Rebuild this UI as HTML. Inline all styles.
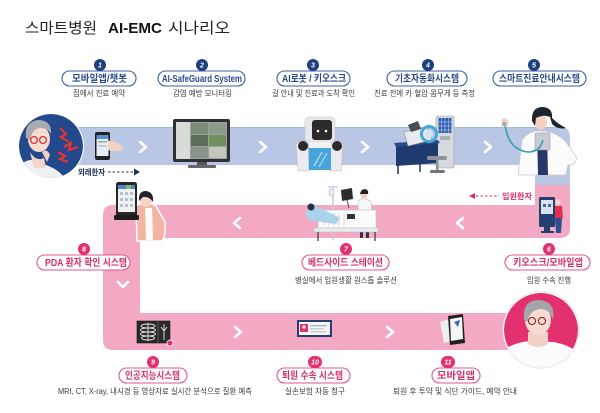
<!DOCTYPE html>
<html><head><meta charset="utf-8">
<style>
html,body{margin:0;padding:0;background:#fff;}
body{width:600px;height:413px;overflow:hidden;}
svg{display:block;}
text{font-family:"Liberation Sans","Noto Sans CJK KR",sans-serif;}
.pb{fill:#2c4a8c;font-weight:bold;font-size:10px;}
.pp{fill:#d4306e;font-weight:bold;font-size:10px;}
.sub{fill:#3a3a3a;font-size:8px;}
.bn{fill:#fff;font-weight:bold;font-style:italic;font-size:7px;}
</style></head>
<body>
<svg width="600" height="413" viewBox="0 0 600 413" xmlns="http://www.w3.org/2000/svg">
<defs>
<clipPath id="c1"><circle cx="51" cy="146" r="32"/></clipPath>
<clipPath id="c2"><circle cx="541" cy="330" r="37"/></clipPath>
</defs>

<!-- Title -->
<text x="25" y="33" font-size="15" fill="#222" textLength="72" lengthAdjust="spacingAndGlyphs">스마트병원</text>
<text x="108" y="33" font-size="15" font-weight="bold" fill="#111" textLength="54" lengthAdjust="spacingAndGlyphs">AI-EMC</text>
<text x="168" y="33" font-size="15" fill="#222" textLength="62" lengthAdjust="spacingAndGlyphs">시나리오</text>

<!-- Tracks -->
<path d="M70 127 H560 Q570 127 570 137 V186 H535 V165 H70 Z" fill="#b9c6e4"/>
<line x1="70" y1="127.5" x2="560" y2="127.5" stroke="#a6b5da" stroke-width="1"/>
<path d="M113 205 H535 V185 H570 V228 Q570 238 560 238 H143 Q140 238 140 241 V313 H545 V350 H113 Q103 350 103 340 V215 Q103 205 113 205 Z" fill="#f3a9c4"/>

<!-- chevrons -->
<g fill="none" stroke="#fff" stroke-width="2.6" stroke-linecap="round" stroke-linejoin="round">
<polyline points="140,142 146,147 140,152"/>
<polyline points="260,142 266,147 260,152"/>
<polyline points="362,142 368,147 362,152"/>
<polyline points="485,142 491,147 485,152"/>
<polyline points="240,218 234,223 240,228"/>
<polyline points="463,218 457,223 463,228"/>
<polyline points="118,282 123,287 128,282"/>
<polyline points="235,327 241,332 235,337"/>
<polyline points="387,327 393,332 387,337"/>
</g>

<!-- Top-left circle patient -->
<circle cx="51" cy="146" r="33" fill="#fff"/>
<g clip-path="url(#c1)">
<circle cx="51" cy="146" r="32" fill="#23488b"/>
<path d="M14 170 Q25 158 36 160 L46 165 Q60 170 66 180 L70 190 L10 190 Z" fill="#eef0f5"/>
<path d="M30 152 Q36 162 44 158 L46 168 L34 168 Z" fill="#f4d5cb"/>
<ellipse cx="39" cy="139" rx="11" ry="13" fill="#f6dbd2"/>
<path d="M26 138 Q24 122 38 120 Q52 120 51 134 Q48 128 40 128 Q32 129 30 140 Z" fill="#a9abb1"/>
<circle cx="34" cy="140" r="3.4" fill="none" stroke="#d93030" stroke-width="1.3"/>
<circle cx="43" cy="140" r="3.4" fill="none" stroke="#d93030" stroke-width="1.3"/>
<path d="M42 152 Q47 148 50 155 L47 162 Z" fill="#f1cfc5"/>
<g fill="none" stroke="#e8332f" stroke-width="2.2" stroke-linejoin="miter">
<polyline points="60,128 66,134 61,137 69,142"/>
<polyline points="64,147 71,143 69,150 78,147"/>
<polyline points="58,152 65,156 60,159 68,162"/>
</g>
</g>

<!-- phone in hand -->
<rect x="95" y="132" width="15" height="28" rx="2" fill="#222"/>
<rect x="96.5" y="135" width="12" height="21" fill="#e9eef6"/>
<rect x="96.5" y="135" width="12" height="4" fill="#5a8fd0"/>
<rect x="98" y="141" width="9" height="1.5" fill="#8cb58a"/>
<rect x="98" y="145" width="9" height="1.5" fill="#b7c3d6"/>
<path d="M108 141 Q116 140 123 147 L121 151 Q114 152 108 150 Z" fill="#f3d2c4"/>

<!-- monitor -->
<rect x="173" y="119" width="57" height="43" rx="2" fill="#2f3135"/>
<rect x="176" y="122" width="51" height="37" fill="#9aa39a"/>
<rect x="176" y="122" width="14" height="37" fill="#d8dcd8"/>
<rect x="191" y="123" width="17" height="11" fill="#7d8a7a"/>
<rect x="209" y="123" width="17" height="11" fill="#8d9b8a"/>
<rect x="191" y="135" width="17" height="11" fill="#5b6e58"/>
<rect x="209" y="135" width="17" height="11" fill="#6f8f5e"/>
<rect x="191" y="147" width="17" height="11" fill="#8a948a"/>
<rect x="209" y="147" width="17" height="11" fill="#bfc8bd"/>
<rect x="197" y="162" width="10" height="4" fill="#555"/>
<rect x="188" y="165" width="28" height="3" rx="1" fill="#666"/>

<!-- robot -->
<path d="M296 144 Q300 140 308 141 L309 171 L298 171 Z" fill="#e9ebee" stroke="#b8bcc2" stroke-width="0.6"/>
<path d="M343 144 Q339 140 331 141 L330 171 L341 171 Z" fill="#e9ebee" stroke="#b8bcc2" stroke-width="0.6"/>
<circle cx="303" cy="146" r="5" fill="#2b2b2b"/>
<circle cx="337" cy="146" r="5" fill="#2b2b2b"/>
<rect x="305" y="117" width="30" height="25" rx="4" fill="#e6e8ea" stroke="#bfc3c8" stroke-width="0.6"/>
<rect x="312" y="120" width="20" height="20" rx="3" fill="#2a2a2c"/>
<circle cx="318" cy="131" r="1.3" fill="#fff"/>
<circle cx="326" cy="131" r="1.3" fill="#fff"/>
<rect x="309" y="142" width="22" height="6" fill="#f2f3f4"/>
<rect x="309" y="148" width="22" height="22" fill="#4aa4dc"/>
<line x1="314" y1="166" x2="322" y2="152" stroke="#bfe3f7" stroke-width="1.2"/>
<line x1="319" y1="167" x2="327" y2="153" stroke="#bfe3f7" stroke-width="1"/>

<!-- BP machine + kiosk -->
<rect x="436" y="116" width="18" height="52" rx="1.5" fill="#d6d9de" stroke="#9aa0a8" stroke-width="0.6"/>
<rect x="438.5" y="118" width="13" height="15" fill="#2f5fb0"/>
<g stroke="#d4e2f5" stroke-width="0.5">
<line x1="441.5" y1="118" x2="441.5" y2="133"/><line x1="445" y1="118" x2="445" y2="133"/><line x1="448.5" y1="118" x2="448.5" y2="133"/>
<line x1="438.5" y1="122" x2="451.5" y2="122"/><line x1="438.5" y1="126" x2="451.5" y2="126"/><line x1="438.5" y1="130" x2="451.5" y2="130"/>
</g>
<rect x="440" y="136" width="10" height="4" fill="#aab0b8"/>
<path d="M396 145 L438 142 L438 163 L396 166 Z" fill="#1f3a6e"/>
<path d="M394 143 L438 140 L440 143 L396 147 Z" fill="#2a4c88"/>
<line x1="398" y1="165" x2="398" y2="174" stroke="#1f3a6e" stroke-width="1.5"/>
<line x1="420" y1="163" x2="420" y2="172" stroke="#1f3a6e" stroke-width="1.5"/>
<path d="M404 132 L427 127 L432 140 L408 146 Z" fill="#e8eaee" stroke="#8a9098" stroke-width="0.6"/>
<path d="M408 125 L418 121 L421 129 L411 132 Z" fill="#4a4d52"/>
<circle cx="429" cy="134" r="7.5" fill="none" stroke="#46a7d8" stroke-width="3"/>
<circle cx="429" cy="134" r="4" fill="#d7e3ec"/>
<rect x="427" y="156" width="20" height="4" rx="1.5" fill="#8d9198"/>
<rect x="436" y="160" width="2.5" height="10" fill="#8d9198"/>
<rect x="430" y="170" width="15" height="3" rx="1.5" fill="#6f747b"/>

<!-- doctor -->
<path d="M518 175 L522 140 Q530 130 540 131 Q556 131 566 142 L577 158 Q574 166 568 165 L566 175 Z" fill="#fbfbfc" stroke="#c3c7cf" stroke-width="0.7"/>
<path d="M537 133 L547 133 L548 175 L538 175 Z" fill="#28386a"/>
<rect x="535" y="133" width="15" height="17" rx="1" fill="#c8ccd2" stroke="#8e949c" stroke-width="0.5"/>
<ellipse cx="541" cy="122" rx="6" ry="7.5" fill="#f4d2c5"/>
<path d="M532 121 Q531 107 543 107 Q553 108 552 118 Q558 124 566 128 Q558 130 552 124 L550 117 Q544 114 536 118 L535 126 Z" fill="#1e2330"/>
<path d="M505 124 Q508 150 528 152 Q540 152 543 140" fill="none" stroke="#3aa0b4" stroke-width="1.6"/>
<path d="M501 120 Q506 116 509 122 L507 128 Z" fill="#f4d2c5"/>
<circle cx="504" cy="124" r="2.2" fill="#9fa6ae"/>

<!-- 외래환자 arrow -->
<text x="78" y="175" font-size="8" font-weight="bold" fill="#1e2f5a" textLength="27" lengthAdjust="spacingAndGlyphs">외래환자</text>
<line x1="108" y1="172" x2="133" y2="172" stroke="#1e2f5a" stroke-width="1" stroke-dasharray="2.5,2"/>
<path d="M134 168.5 L140 172 L134 175.5 Z" fill="#1e2f5a"/>

<!-- 입원환자 arrow -->
<path d="M475 193 L469 196 L475 199 Z" fill="#d4306e"/>
<line x1="476" y1="196" x2="499" y2="196" stroke="#d4306e" stroke-width="1" stroke-dasharray="2.5,2"/>
<text x="502" y="199" font-size="8" font-weight="bold" fill="#d4306e" textLength="30" lengthAdjust="spacingAndGlyphs">입원환자</text>

<!-- PDA woman -->
<path d="M136 206 Q146 200 156 206 L165 222 Q166 236 162 241 L137 241 Z" fill="#f3b5a3" stroke="#fff" stroke-width="1.5"/>
<path d="M145 208 L152 208 L153 240 L146 240 Z" fill="#fbfbfb"/>
<ellipse cx="146" cy="200" rx="6" ry="7" fill="#f4d2c5"/>
<path d="M139 201 Q138 191 146 191 Q154 192 153 202 Q149 196 143 197 Z" fill="#1e2330"/>
<rect x="116" y="182" width="21" height="37" rx="2.5" fill="#262628"/>
<rect x="118" y="185" width="17" height="27" fill="#eef1f4"/>
<rect x="118" y="185" width="17" height="4" fill="#4f86c9"/>
<rect x="126" y="185" width="5" height="4" fill="#7cbf6e"/>
<g fill="#b8c0cc"><rect x="120" y="192" width="3" height="3"/><rect x="125" y="192" width="3" height="3"/><rect x="130" y="192" width="3" height="3"/>
<rect x="120" y="198" width="3" height="3"/><rect x="125" y="198" width="3" height="3"/><rect x="130" y="198" width="3" height="3"/>
<rect x="120" y="204" width="3" height="3"/><rect x="125" y="204" width="3" height="3"/><rect x="130" y="204" width="3" height="3"/></g>
<rect x="114" y="215" width="25" height="5" rx="1.5" fill="#1c1c1e"/>

<!-- bed station -->
<line x1="333" y1="186" x2="333" y2="240" stroke="#c9ccd2" stroke-width="1.6"/>
<line x1="328" y1="187" x2="338" y2="187" stroke="#c9ccd2" stroke-width="1.2"/>
<rect x="329" y="189" width="5" height="7" rx="1" fill="#dfe9f2" stroke="#aab" stroke-width="0.4"/>
<path d="M341 190 L352 188 L353 199 L342 201 Z" fill="#2a2c30"/>
<line x1="347" y1="200" x2="349" y2="208" stroke="#555" stroke-width="1"/>
<path d="M358 201 Q364 196 371 202 L373 226 L359 226 Z" fill="#f7f8fa" stroke="#b9bec6" stroke-width="0.6"/>
<ellipse cx="364" cy="195" rx="3.5" ry="4" fill="#f4d2c5"/>
<path d="M360 194 Q361 189 365 189 Q369 190 368 194 Z" fill="#1e2330"/>
<rect x="360" y="226" width="3" height="12" fill="#333"/><rect x="366" y="226" width="3" height="12" fill="#333"/>
<rect x="318" y="210" width="58" height="18" fill="#fbfbfb" stroke="#b9bec6" stroke-width="0.6"/>
<g stroke="#c8ccd3" stroke-width="0.8"><line x1="324" y1="213" x2="324" y2="226"/><line x1="329" y1="213" x2="329" y2="226"/><line x1="334" y1="213" x2="334" y2="226"/><line x1="339" y1="213" x2="339" y2="226"/><line x1="344" y1="213" x2="344" y2="226"/></g>
<rect x="347" y="214" width="8" height="5" fill="#30343a"/>
<path d="M305 212 L312 204 L340 218 L336 224 L308 220 Z" fill="#a9d2ec"/>
<circle cx="311" cy="207" r="3.5" fill="#263046"/>
<rect x="314" y="228" width="64" height="4" fill="#e8eaee" stroke="#b9bec6" stroke-width="0.5"/>
<line x1="318" y1="232" x2="318" y2="241" stroke="#333" stroke-width="1.2"/>
<line x1="375" y1="232" x2="375" y2="241" stroke="#333" stroke-width="1.2"/>

<!-- kiosk right -->
<rect x="539" y="197" width="16" height="30" rx="1.5" fill="#253f70"/>
<rect x="541" y="200" width="12" height="14" fill="#d9e3f0"/>
<rect x="543" y="204" width="3" height="3" fill="#3c66a8"/><rect x="548" y="204" width="3" height="3" fill="#3c66a8"/>
<rect x="544" y="227" width="6" height="5" fill="#253f70"/>
<rect x="541" y="231" width="13" height="2" fill="#253f70"/>
<ellipse cx="558" cy="202" rx="2.6" ry="3" fill="#f4d2c5"/>
<path d="M555 206 L562 206 L563 218 L555 218 Z" fill="#e2304f"/>
<path d="M555 218 L562 218 L561 233 L556 233 Z" fill="#2d4f92"/>

<!-- X-ray -->
<rect x="137" y="321" width="33" height="22" fill="#2a2a2c" stroke="#1a1a1a" stroke-width="0.6"/>
<line x1="158" y1="321" x2="158" y2="343" stroke="#777" stroke-width="0.6"/>
<g fill="none" stroke="#e8e8e8" stroke-width="0.9">
<ellipse cx="148" cy="326" rx="7" ry="2"/><ellipse cx="148" cy="330" rx="7.5" ry="2"/><ellipse cx="148" cy="334" rx="7.5" ry="2"/><ellipse cx="148" cy="338" rx="6.5" ry="2"/>
<line x1="148" y1="323" x2="148" y2="341"/>
<line x1="164" y1="324" x2="164" y2="340"/>
<path d="M161 327 L164 331 L167 327"/>
</g>
<circle cx="170" cy="343" r="3" fill="#e3306f" stroke="#fff" stroke-width="0.8"/>

<!-- insurance card -->
<rect x="297" y="320" width="35" height="17" fill="#263e74"/>
<rect x="299" y="322" width="31" height="13" fill="#f4f5f8"/>
<rect x="300" y="324" width="8" height="8" fill="#e3306f"/>
<circle cx="304" cy="327" r="1.6" fill="#fff"/>
<rect x="310" y="325" width="17" height="1.4" fill="#aeb6c4"/>
<rect x="310" y="328" width="14" height="1.4" fill="#c6ccd6"/>
<rect x="310" y="331" width="16" height="1.4" fill="#c6ccd6"/>

<!-- phone bottom -->
<path d="M440 322 L452 318 L454 340 L444 343 Z" fill="#ededee"/>
<path d="M448 316 L463 314 L465 343 L450 345 Z" fill="#1f1f22"/>
<path d="M450 319 L462 317 L463 339 L451 341 Z" fill="#f5f6f8"/>
<path d="M454 322 L460 320 L458 327 Z" fill="#3c66c4"/>

<!-- bottom-right circle -->
<circle cx="541" cy="330" r="38.2" fill="#fff" stroke="#d7d7da" stroke-width="0.6"/>
<g clip-path="url(#c2)">
<circle cx="541" cy="330" r="37" fill="#e3306f"/>
<path d="M500 352 Q520 338 541 342 Q565 340 582 356 L582 372 L500 372 Z" fill="#fbfbfb"/>
<path d="M528 332 L548 332 L548 344 Q538 350 528 344 Z" fill="#f2d0c6"/>
<ellipse cx="538" cy="320" rx="13" ry="15" fill="#f6dbd2"/>
<path d="M524 320 Q522 300 539 300 Q556 301 553 320 Q550 309 540 309 Q530 310 527 322 Z" fill="#a3a5ab"/>
<circle cx="532" cy="321" r="3.6" fill="none" stroke="#8a2a2a" stroke-width="1.1"/>
<circle cx="542" cy="321" r="3.6" fill="none" stroke="#8a2a2a" stroke-width="1.1"/>
</g>

<!-- Step labels row 1 -->
<g stroke-width="1.1">
<rect x="62" y="71" width="74" height="15" rx="7.5" fill="#fff" stroke="#3f5f9c"/>
<rect x="158" y="71" width="87" height="15" rx="7.5" fill="#fff" stroke="#3f5f9c"/>
<rect x="277" y="71" width="73" height="15" rx="7.5" fill="#fff" stroke="#3f5f9c"/>
<rect x="387" y="71" width="80" height="15" rx="7.5" fill="#fff" stroke="#3f5f9c"/>
<rect x="493" y="71" width="93" height="15" rx="7.5" fill="#fff" stroke="#3f5f9c"/>
</g>
<text class="pb" x="72" y="82" textLength="55" lengthAdjust="spacingAndGlyphs">모바일앱/챗봇</text>
<text class="pb" x="162" y="82" textLength="80" lengthAdjust="spacingAndGlyphs">AI-SafeGuard System</text>
<text class="pb" x="282" y="82" textLength="64" lengthAdjust="spacingAndGlyphs">AI로봇 / 키오스크</text>
<text class="pb" x="395" y="82" textLength="64" lengthAdjust="spacingAndGlyphs">기초자동화시스템</text>
<text class="pb" x="499" y="82" textLength="81" lengthAdjust="spacingAndGlyphs">스마트진료안내시스템</text>
<g fill="#1f3f80">
<circle cx="100" cy="65" r="6"/><circle cx="202" cy="65" r="6"/><circle cx="313" cy="65" r="6"/><circle cx="428" cy="65" r="6"/><circle cx="534" cy="65" r="6"/>
</g>
<g text-anchor="middle">
<text class="bn" x="100" y="67.5">1</text><text class="bn" x="202" y="67.5">2</text><text class="bn" x="313" y="67.5">3</text><text class="bn" x="428" y="67.5">4</text><text class="bn" x="534" y="67.5">5</text>
</g>
<text class="sub" x="73" y="96" textLength="52" lengthAdjust="spacingAndGlyphs">집에서 진료 예약</text>
<text class="sub" x="173" y="96" textLength="59" lengthAdjust="spacingAndGlyphs">감염 예방 모니터링</text>
<text class="sub" x="272" y="96" textLength="83" lengthAdjust="spacingAndGlyphs">길 안내 및 진료과 도착 확인</text>
<text class="sub" x="374" y="96" textLength="101" lengthAdjust="spacingAndGlyphs">진료 전에 키·혈압·몸무게 등 측정</text>

<!-- Step labels row 2 -->
<g stroke-width="1.1">
<rect x="37" y="255" width="93" height="15" rx="7.5" fill="#fff" stroke="#e0588c"/>
<rect x="302" y="255" width="87" height="15" rx="7.5" fill="#fff" stroke="#e0588c"/>
<rect x="505" y="255" width="85" height="15" rx="7.5" fill="#fff" stroke="#e0588c"/>
</g>
<text class="pp" x="45" y="266" textLength="82" lengthAdjust="spacingAndGlyphs">PDA 환자 확인 시스템</text>
<text class="pp" x="308" y="266" textLength="75" lengthAdjust="spacingAndGlyphs">베드사이드 스테이션</text>
<text class="pp" x="513" y="266" textLength="70" lengthAdjust="spacingAndGlyphs">키오스크/모바일앱</text>
<g fill="#e3306f"><circle cx="84" cy="249" r="6"/><circle cx="346" cy="249" r="6"/><circle cx="549" cy="249" r="6"/></g>
<g text-anchor="middle"><text class="bn" x="84" y="251.5">8</text><text class="bn" x="346" y="251.5">7</text><text class="bn" x="549" y="251.5">6</text></g>
<text class="sub" x="295" y="283" textLength="102" lengthAdjust="spacingAndGlyphs">병실에서 입원생활 원스톱 솔루션</text>
<text class="sub" x="527" y="283" textLength="44" lengthAdjust="spacingAndGlyphs">입원 수속 진행</text>

<!-- Step labels row 3 -->
<g stroke-width="1.1">
<rect x="119" y="368" width="68" height="15" rx="7.5" fill="#fff" stroke="#e0588c"/>
<rect x="277" y="368" width="73" height="15" rx="7.5" fill="#fff" stroke="#e0588c"/>
<rect x="432" y="368" width="48" height="15" rx="7.5" fill="#fff" stroke="#e0588c"/>
</g>
<text class="pp" x="125" y="379" textLength="55" lengthAdjust="spacingAndGlyphs">인공지능시스템</text>
<text class="pp" x="282" y="379" textLength="61" lengthAdjust="spacingAndGlyphs">퇴원 수속 시스템</text>
<text class="pp" x="437" y="379" textLength="38" lengthAdjust="spacingAndGlyphs">모바일앱</text>
<g fill="#e3306f"><circle cx="153" cy="362" r="6"/><rect x="308" y="356" width="14" height="12" rx="6"/><rect x="441" y="356" width="14" height="12" rx="6"/></g>
<g text-anchor="middle"><text class="bn" x="153" y="364.5">9</text><text class="bn" x="315" y="364.5">10</text><text class="bn" x="448" y="364.5">11</text></g>
<text class="sub" x="58" y="394" textLength="194" lengthAdjust="spacingAndGlyphs">MRI, CT, X-ray, 내시경 등 영상자료 실시간 분석으로 질환 예측</text>
<text class="sub" x="285" y="394" textLength="60" lengthAdjust="spacingAndGlyphs">실손보험 자동 청구</text>
<text class="sub" x="393" y="394" textLength="124" lengthAdjust="spacingAndGlyphs">퇴원 후 투약 및 식단 가이드, 예약 안내</text>
</svg>
</body></html>
